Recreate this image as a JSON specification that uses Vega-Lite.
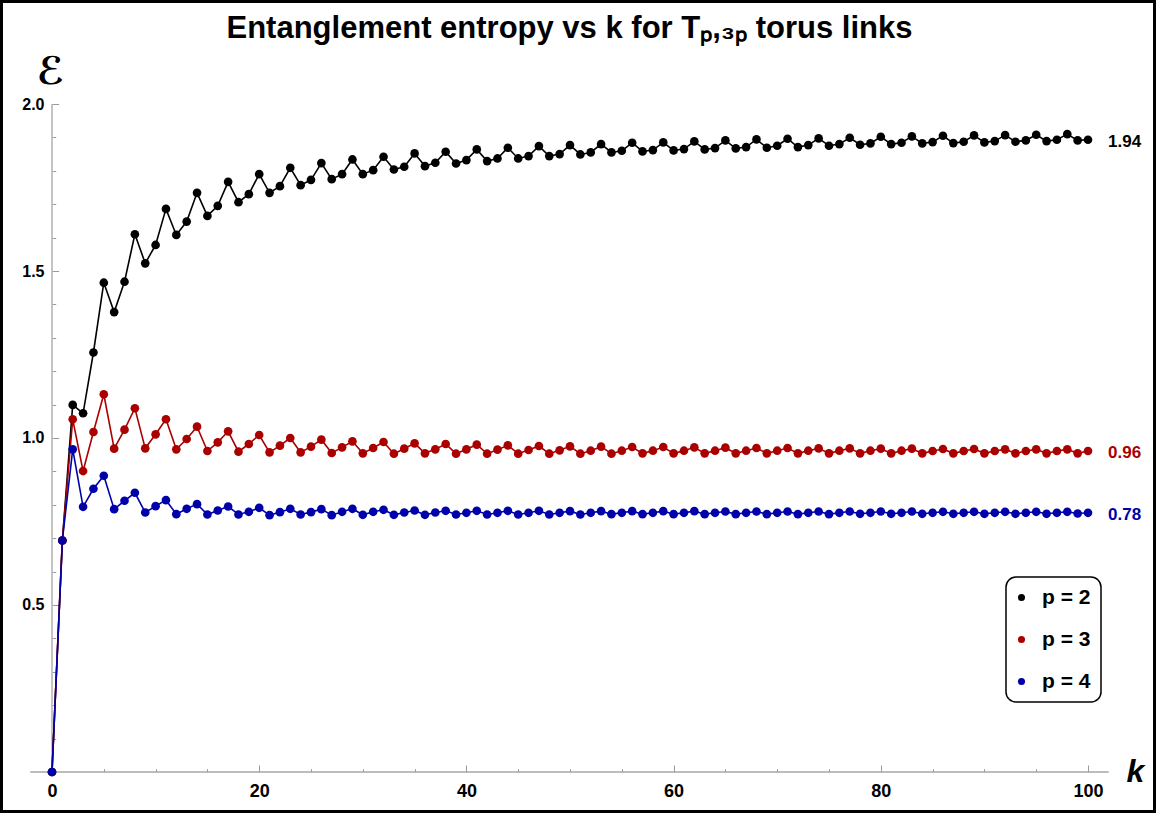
{
  "$schema": "https://vega.github.io/schema/vega-lite/v6.json",
  "width": 1156,
  "height": 813,
  "autosize": {"type": "none"},
  "padding": 0,
  "background": "white",
  "config": {
    "view": {"stroke": "black", "strokeWidth": 6, "fill": "white"},
    "font": "Liberation Sans",
    "legend": {"strokeColor": "black", "strokeWidth": 1.5, "cornerRadius": 10, "fillColor": "white", "padding": 10, "rowPadding": 20,
               "symbolType": "circle", "symbolSize": 50, "symbolStrokeWidth": 0, "symbolOpacity": 1, "symbolOffset": -5,
               "labelFont": "Liberation Sans", "labelFontSize": 21, "labelFontWeight": "bold", "labelColor": "black", "labelOffset": 10}
  },
  "datasets": {
    "main": [
      {"k":0,"p2":0,"p3":0,"p4":0},
      {"k":1,"p2":0.693,"p3":0.693,"p4":0.693},
      {"k":2,"p2":1.099,"p3":1.056,"p4":0.966},
      {"k":3,"p2":1.074,"p3":0.901,"p4":0.794},
      {"k":4,"p2":1.256,"p3":1.018,"p4":0.848},
      {"k":5,"p2":1.465,"p3":1.131,"p4":0.887},
      {"k":6,"p2":1.377,"p3":0.968,"p4":0.787},
      {"k":7,"p2":1.468,"p3":1.025,"p4":0.812},
      {"k":8,"p2":1.610,"p3":1.089,"p4":0.836},
      {"k":9,"p2":1.523,"p3":0.969,"p4":0.777},
      {"k":10,"p2":1.578,"p3":1.011,"p4":0.796},
      {"k":11,"p2":1.686,"p3":1.056,"p4":0.814},
      {"k":12,"p2":1.608,"p3":0.966,"p4":0.772},
      {"k":13,"p2":1.648,"p3":0.997,"p4":0.788},
      {"k":14,"p2":1.734,"p3":1.034,"p4":0.802},
      {"k":15,"p2":1.665,"p3":0.961,"p4":0.771},
      {"k":16,"p2":1.695,"p3":0.987,"p4":0.783},
      {"k":17,"p2":1.767,"p3":1.020,"p4":0.795},
      {"k":18,"p2":1.706,"p3":0.959,"p4":0.771},
      {"k":19,"p2":1.730,"p3":0.982,"p4":0.779},
      {"k":20,"p2":1.790,"p3":1.009,"p4":0.791},
      {"k":21,"p2":1.734,"p3":0.957,"p4":0.769},
      {"k":22,"p2":1.754,"p3":0.977,"p4":0.778},
      {"k":23,"p2":1.809,"p3":1.000,"p4":0.788},
      {"k":24,"p2":1.757,"p3":0.957,"p4":0.771},
      {"k":25,"p2":1.773,"p3":0.974,"p4":0.778},
      {"k":26,"p2":1.823,"p3":0.995,"p4":0.787},
      {"k":27,"p2":1.775,"p3":0.955,"p4":0.769},
      {"k":28,"p2":1.790,"p3":0.972,"p4":0.779},
      {"k":29,"p2":1.834,"p3":0.990,"p4":0.788},
      {"k":30,"p2":1.790,"p3":0.954,"p4":0.770},
      {"k":31,"p2":1.802,"p3":0.970,"p4":0.779},
      {"k":32,"p2":1.842,"p3":0.988,"p4":0.785},
      {"k":33,"p2":1.804,"p3":0.953,"p4":0.770},
      {"k":34,"p2":1.812,"p3":0.968,"p4":0.777},
      {"k":35,"p2":1.852,"p3":0.984,"p4":0.783},
      {"k":36,"p2":1.814,"p3":0.954,"p4":0.770},
      {"k":37,"p2":1.824,"p3":0.966,"p4":0.777},
      {"k":38,"p2":1.857,"p3":0.982,"p4":0.782},
      {"k":39,"p2":1.822,"p3":0.953,"p4":0.771},
      {"k":40,"p2":1.832,"p3":0.966,"p4":0.776},
      {"k":41,"p2":1.864,"p3":0.980,"p4":0.782},
      {"k":42,"p2":1.829,"p3":0.953,"p4":0.771},
      {"k":43,"p2":1.837,"p3":0.965,"p4":0.776},
      {"k":44,"p2":1.869,"p3":0.978,"p4":0.782},
      {"k":45,"p2":1.837,"p3":0.953,"p4":0.771},
      {"k":46,"p2":1.844,"p3":0.964,"p4":0.776},
      {"k":47,"p2":1.874,"p3":0.976,"p4":0.782},
      {"k":48,"p2":1.844,"p3":0.953,"p4":0.771},
      {"k":49,"p2":1.850,"p3":0.963,"p4":0.776},
      {"k":50,"p2":1.877,"p3":0.975,"p4":0.781},
      {"k":51,"p2":1.849,"p3":0.953,"p4":0.771},
      {"k":52,"p2":1.855,"p3":0.962,"p4":0.776},
      {"k":53,"p2":1.880,"p3":0.974,"p4":0.781},
      {"k":54,"p2":1.855,"p3":0.953,"p4":0.772},
      {"k":55,"p2":1.860,"p3":0.962,"p4":0.776},
      {"k":56,"p2":1.884,"p3":0.973,"p4":0.781},
      {"k":57,"p2":1.858,"p3":0.954,"p4":0.772},
      {"k":58,"p2":1.862,"p3":0.962,"p4":0.776},
      {"k":59,"p2":1.885,"p3":0.973,"p4":0.781},
      {"k":60,"p2":1.861,"p3":0.954,"p4":0.772},
      {"k":61,"p2":1.865,"p3":0.962,"p4":0.776},
      {"k":62,"p2":1.888,"p3":0.972,"p4":0.781},
      {"k":63,"p2":1.864,"p3":0.954,"p4":0.772},
      {"k":64,"p2":1.868,"p3":0.962,"p4":0.776},
      {"k":65,"p2":1.891,"p3":0.971,"p4":0.780},
      {"k":66,"p2":1.867,"p3":0.954,"p4":0.772},
      {"k":67,"p2":1.871,"p3":0.962,"p4":0.776},
      {"k":68,"p2":1.894,"p3":0.970,"p4":0.780},
      {"k":69,"p2":1.869,"p3":0.954,"p4":0.772},
      {"k":70,"p2":1.875,"p3":0.962,"p4":0.776},
      {"k":71,"p2":1.896,"p3":0.970,"p4":0.780},
      {"k":72,"p2":1.871,"p3":0.954,"p4":0.772},
      {"k":73,"p2":1.877,"p3":0.962,"p4":0.776},
      {"k":74,"p2":1.897,"p3":0.969,"p4":0.780},
      {"k":75,"p2":1.875,"p3":0.954,"p4":0.772},
      {"k":76,"p2":1.880,"p3":0.962,"p4":0.776},
      {"k":77,"p2":1.899,"p3":0.969,"p4":0.780},
      {"k":78,"p2":1.878,"p3":0.954,"p4":0.773},
      {"k":79,"p2":1.882,"p3":0.962,"p4":0.776},
      {"k":80,"p2":1.902,"p3":0.968,"p4":0.780},
      {"k":81,"p2":1.880,"p3":0.954,"p4":0.773},
      {"k":82,"p2":1.884,"p3":0.962,"p4":0.776},
      {"k":83,"p2":1.903,"p3":0.968,"p4":0.780},
      {"k":84,"p2":1.882,"p3":0.954,"p4":0.773},
      {"k":85,"p2":1.886,"p3":0.961,"p4":0.776},
      {"k":86,"p2":1.905,"p3":0.967,"p4":0.779},
      {"k":87,"p2":1.883,"p3":0.954,"p4":0.773},
      {"k":88,"p2":1.887,"p3":0.961,"p4":0.776},
      {"k":89,"p2":1.906,"p3":0.967,"p4":0.779},
      {"k":90,"p2":1.885,"p3":0.954,"p4":0.773},
      {"k":91,"p2":1.889,"p3":0.961,"p4":0.776},
      {"k":92,"p2":1.907,"p3":0.966,"p4":0.779},
      {"k":93,"p2":1.887,"p3":0.954,"p4":0.773},
      {"k":94,"p2":1.891,"p3":0.961,"p4":0.776},
      {"k":95,"p2":1.908,"p3":0.966,"p4":0.779},
      {"k":96,"p2":1.889,"p3":0.954,"p4":0.773},
      {"k":97,"p2":1.893,"p3":0.961,"p4":0.776},
      {"k":98,"p2":1.910,"p3":0.966,"p4":0.779},
      {"k":99,"p2":1.891,"p3":0.954,"p4":0.774},
      {"k":100,"p2":1.893,"p3":0.961,"p4":0.776}
    ],
    "axes": [
      {"k": -2.1, "k2": 102, "E": 0, "E2": 0},
      {"k": 0, "k2": 0, "E": 0, "E2": 2}
    ],
    "ends": [
      {"k": 100, "E": 1.893, "series": "p2", "label": "1.94"},
      {"k": 100, "E": 0.961, "series": "p3", "label": "0.96"},
      {"k": 100, "E": 0.776, "series": "p4", "label": "0.78"}
    ]
  },
  "layer": [
    {
      "data": {"name": "axes"},
      "mark": {"type": "rule", "color": "#a6a6a6", "strokeWidth": 1.3},
      "encoding": {
        "x": {"field": "k", "type": "quantitative", "scale": {"domain": [-5.019, 106.564], "nice": false, "zero": false},
              "axis": {"orient": "bottom", "offset": -44.3, "values": [5,10,15,25,30,35,45,50,55,65,70,75,85,90,95], "tickSize": 3.3, "tickColor": "#999999", "tickWidth": 1, "labels": false, "domain": false, "grid": false, "title": null}},
        "x2": {"field": "k2"},
        "y": {"field": "E", "type": "quantitative", "scale": {"domain": [-0.1228, 2.3114], "nice": false, "zero": false},
              "axis": {"orient": "left", "offset": -55.7, "values": [0.1,0.2,0.3,0.4,0.6,0.7,0.8,0.9,1.1,1.2,1.3,1.4,1.6,1.7,1.8,1.9], "tickSize": 3.7, "tickColor": "#999999", "tickWidth": 1, "labels": false, "domain": false, "grid": false, "title": null}},
        "y2": {"field": "E2"}
      }
    },
    {
      "data": {"name": "main"},
      "transform": [{"fold": ["p2", "p3", "p4"], "as": ["series", "E"]}],
      "mark": {"type": "line", "strokeWidth": 1.6},
      "encoding": {
        "x": {"field": "k", "type": "quantitative", "scale": {"domain": [-5.019, 106.564], "nice": false, "zero": false},
              "axis": {"orient": "bottom", "offset": -48, "values": [0,20,40,60,80,100], "tickSize": 7, "tickColor": "#999999", "tickWidth": 1, "domain": false, "grid": false,
                       "labelFont": "Liberation Sans", "labelFontSize": 18, "labelFontWeight": "bold", "labelColor": "black", "labelPadding": 10, "labelFlush": false, "labelOverlap": false,
                       "title": "k", "titleFont": "Liberation Sans", "titleFontSize": 32, "titleFontWeight": "bold", "titleFontStyle": "italic", "titleColor": "black", "titleX": 1135, "titleY": 6, "titleAlign": "center", "titleBaseline": "middle", "titleAngle": 0}},
        "y": {"field": "E", "type": "quantitative", "scale": {"domain": [-0.1228, 2.3114], "nice": false, "zero": false},
              "axis": {"orient": "left", "offset": -58.7, "values": [0.5,1,1.5,2], "format": ".1f", "tickSize": 6.7, "tickColor": "#999999", "tickWidth": 1, "domain": false, "grid": false,
                       "labelFont": "Liberation Sans", "labelFontSize": 16, "labelFontWeight": "bold", "labelColor": "black", "labelPadding": 8, "labelFlush": false, "labelOverlap": false,
                       "title": "ℰ", "titleFont": "DejaVu Sans", "titleFontSize": 38, "titleFontWeight": "bold", "titleColor": "black", "titleAngle": 0, "titleX": -8.7, "titleY": 72, "titleAlign": "center", "titleBaseline": "middle"}},
        "color": {"field": "series", "type": "nominal", "scale": {"domain": ["p2", "p3", "p4"], "range": ["#000000", "#aa0000", "#0000aa"]}}
      }
    },
    {
      "data": {"name": "main"},
      "transform": [{"fold": ["p2", "p3", "p4"], "as": ["series", "E"]}],
      "mark": {"type": "point", "filled": true, "size": 75, "opacity": 1},
      "encoding": {
        "x": {"field": "k", "type": "quantitative", "scale": {"domain": [-5.019, 106.564], "nice": false, "zero": false}, "axis": null},
        "y": {"field": "E", "type": "quantitative", "scale": {"domain": [-0.1228, 2.3114], "nice": false, "zero": false}, "axis": null},
        "color": {"field": "series", "type": "nominal", "scale": {"domain": ["p2", "p3", "p4"], "range": ["#000000", "#aa0000", "#0000aa"]},
                  "legend": {"orient": "none", "legendX": 1006, "legendY": 577, "title": null, "labelExpr": "'p = ' + slice(datum.label, 1)"}}
      }
    },
    {
      "data": {"name": "ends"},
      "mark": {"type": "text", "align": "left", "baseline": "middle", "dx": 20, "dy": 2, "font": "Liberation Sans", "fontSize": 17, "fontWeight": "bold"},
      "encoding": {
        "x": {"field": "k", "type": "quantitative", "scale": {"domain": [-5.019, 106.564], "nice": false, "zero": false},
              "axis": {"orient": "top", "offset": 0, "domain": false, "ticks": false, "labels": false, "grid": false,
                       "title": "Entanglement entropy vs k for Tₚ,₃ₚ torus links", "titleFont": "Liberation Sans", "titleFontSize": 31, "titleFontWeight": "bold", "titleColor": "black",
                       "titleX": 569, "titleY": 37, "titleAlign": "center", "titleBaseline": "alphabetic", "titleAngle": 0}},
        "y": {"field": "E", "type": "quantitative", "scale": {"domain": [-0.1228, 2.3114], "nice": false, "zero": false}, "axis": null},
        "text": {"field": "label"},
        "color": {"field": "series", "type": "nominal", "scale": {"domain": ["p2", "p3", "p4"], "range": ["#000000", "#aa0000", "#0000aa"]}}
      }
    }
  ],
  "resolve": {"axis": {"x": "independent", "y": "independent"}}
}
